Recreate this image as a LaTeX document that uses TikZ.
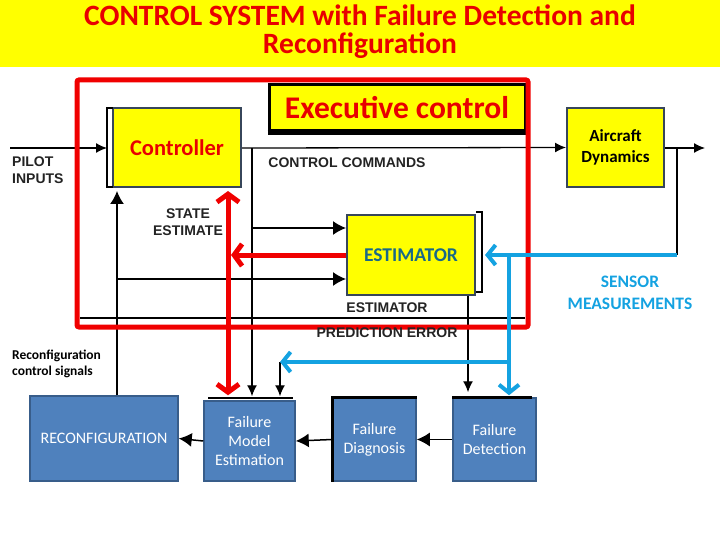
\documentclass[tikz,border=0pt]{standalone}
\usepackage{fontspec}
\setmainfont{Carlito}
\newfontfamily\scanfont{Liberation Sans}
\usetikzlibrary{arrows.meta,calc}
\definecolor{ylw}{RGB}{255,255,0}
\definecolor{ttlred}{RGB}{232,0,0}
\definecolor{arrred}{RGB}{240,0,0}
\definecolor{bdr}{RGB}{55,70,90}
\definecolor{stb}{RGB}{79,129,189}
\definecolor{stbd}{RGB}{56,93,138}
\definecolor{skyb}{RGB}{20,162,225}
\definecolor{estcol}{RGB}{25,105,135}
\definecolor{scangray}{RGB}{35,35,35}
\begin{document}
\begin{tikzpicture}[x=1pt,y=-1pt,
  ybox/.style={fill=ylw, draw=bdr, line width=2pt, inner sep=0pt},
  bbox/.style={fill=stb, draw=stbd, line width=1.5pt, text=white, align=center,
    font=\fontsize{16}{19}\selectfont, inner sep=0pt},
  scan/.style={font=\scanfont\bfseries\fontsize{14}{17}\selectfont, text=scangray,
    align=center, inner sep=0pt},
  plain/.style={draw=black, line width=1.3pt},
  blk/.style={draw=black, line width=1.3pt, -{Latex[length=11pt,width=10pt]}},
  bigblk/.style={draw=black, line width=1.5pt, -{Latex[length=13pt,width=14pt]}},
  redarr/.style={draw=arrred, line width=5pt},
  barb/.style={-{Straight Barb[length=8pt,width=22pt]}},
  bluarr/.style={draw=skyb, line width=4pt, -{Straight Barb[length=8pt,width=20pt]}},
]
\useasboundingbox (0,0) rectangle (720,540);
% title band
\fill[ylw] (0,0) rectangle (720,67);
\node[font=\bfseries\fontsize{29.5}{28}\selectfont, text=ttlred, align=center, inner sep=0pt]
  (title) at (360,32) {CONTROL SYSTEM with Failure Detection and\\Reconfiguration};

% executive control box
\node[fill=ylw, draw=black, line width=3pt, minimum width=256pt, minimum height=46pt,
  inner sep=0pt, font=\bfseries\fontsize{31.5}{30}\selectfont, text=ttlred]
  (exec) at (397,108) {Executive control};
\draw[black, line width=5pt] (exec.south west) -- (exec.south east);

% yellow blocks
\node[ybox, minimum width=128pt, minimum height=79pt, text=ttlred,
  font=\bfseries\fontsize{22.5}{22}\selectfont] (ctrl) at (177,147.5) {Controller};
\node[ybox, minimum width=97pt, minimum height=79pt, align=center,
  font=\bfseries\fontsize{17}{21}\selectfont] (air) at (615.5,147.5) {Aircraft\\Dynamics};
\node[ybox, minimum width=128pt, minimum height=80pt, text=estcol,
  font=\bfseries\fontsize{19.5}{20}\selectfont] (est) at (411,255) {ESTIMATOR};

% original outlines (bracket left of controller, right of estimator)
\draw[plain] (113,108) -- (107,108) -- (107,187) -- (113,187);
\draw[plain] (est.north east) ++(0,-2) -- ++(6,0) -- ++(0,80) -- ++(-6,0);

% bottom blocks
\node[bbox, minimum width=148pt, minimum height=85pt] (reconf) at (104,438.5) {RECONFIGURATION};
\node[bbox, minimum width=91pt, minimum height=80pt] (fme) at (249.5,441) {Failure\\Model\\Estimation};
\node[bbox, minimum width=83pt, minimum height=83pt] (fdiag) at (374.5,439.5) {Failure\\Diagnosis};
\node[bbox, minimum width=83pt, minimum height=83pt] (fdet) at (494.5,439.5) {Failure\\Detection};
\draw[black, line width=2.5pt] (208,398) -- (293,398);
\draw[black, line width=2.5pt] (fdiag.south west) -- (fdiag.north west) -- (fdiag.north east);
\draw[black, line width=2.5pt] (fdet.north west) -- ($(fdet.north east)+(-5,0)$);

% coordinates
\coordinate (pin) at (10,148);
\coordinate (out) at (705,148);
\coordinate (j1) at (252,148);
\coordinate (j2) at (117,279);
\coordinate (pe1) at (80,318);
\coordinate (pe2) at (525,318);
\coordinate (fb1) at (677,148);
\coordinate (fb2) at (677,255);
\coordinate (bv) at (509,255);
\coordinate (bh) at (509,362);
\coordinate (bh2) at (280,362);
\coordinate (r1) at (228,255);

% black connectors
\draw[blk] (pin) -- (107,148);
\draw[blk] (ctrl.east |- j1) -- (air.west);
\draw[blk] (air.east |- out) -- (out);
\draw[blk, shorten >=4pt] (j1) -- (j1 |- fme.north);
\draw[bigblk] (j1 |- 0,228) -- (est.west |- 0,228);
\draw[bigblk] (reconf.north -| j2) -- ($(ctrl.south -| j2)+(0,3)$);
\draw[bigblk] (j2) -- (est.west |- j2);
\draw[blk, shorten >=5pt] (est.south -| 468,0) -- (fdet.north -| 468,0);
\draw[plain] (pe1) -- (pe2);
\draw[plain] (air.east |- fb1) -- (fb1) -- (fb2);
\draw[blk, shorten >=4pt] (bh2) -- (bh2 |- fme.north);
\draw[bigblk] (fdet.west) -- (fdiag.east);
\draw[bigblk] (fdiag.west) -- (fme.east);
\draw[bigblk] (fme.west) -- (reconf.east);

% red frame and arrows
\draw[arrred, line width=5pt, rounded corners=2pt] (77,80) rectangle (528,327);
\draw[redarr, {Straight Barb[length=8pt,width=22pt]}-{Straight Barb[length=8pt,width=22pt]}]
  ($(r1 |- ctrl.south)+(0,3)$) -- ($(r1 |- fme.north)+(0,-5)$);
\draw[redarr, barb] (est.west) -- ($(r1)+(3,0)$);

% blue arrows
\draw[bluarr] (fb2) -- ($(est.east)+(9,0)$);
\draw[bluarr, shorten >=2pt] (bv) -- (bv |- fdet.north);
\draw[bluarr] (bh) -- (bh2);

% scan labels
\node[scan, align=left, anchor=west] (pilot) at (12,170) {PILOT\\INPUTS};
\node[scan] (cc) at (347,163) {CONTROL COMMANDS};
\node[scan] (se) at (188,222) {STATE\\ESTIMATE};
\node[scan] (el) at (387,308) {ESTIMATOR};
\node[scan] (pel) at (387,333) {PREDICTION ERROR};

% other labels
\node[font=\bfseries\fontsize{13.5}{16}\selectfont, align=left, anchor=west, inner sep=0pt]
  (rcs) at (12,364) {Reconfiguration\\control signals};
\node[font=\bfseries\fontsize{17.5}{22}\selectfont, text=skyb, align=center, inner sep=0pt]
  (sm) at (630,293) {SENSOR\\MEASUREMENTS};
\end{tikzpicture}
\end{document}
